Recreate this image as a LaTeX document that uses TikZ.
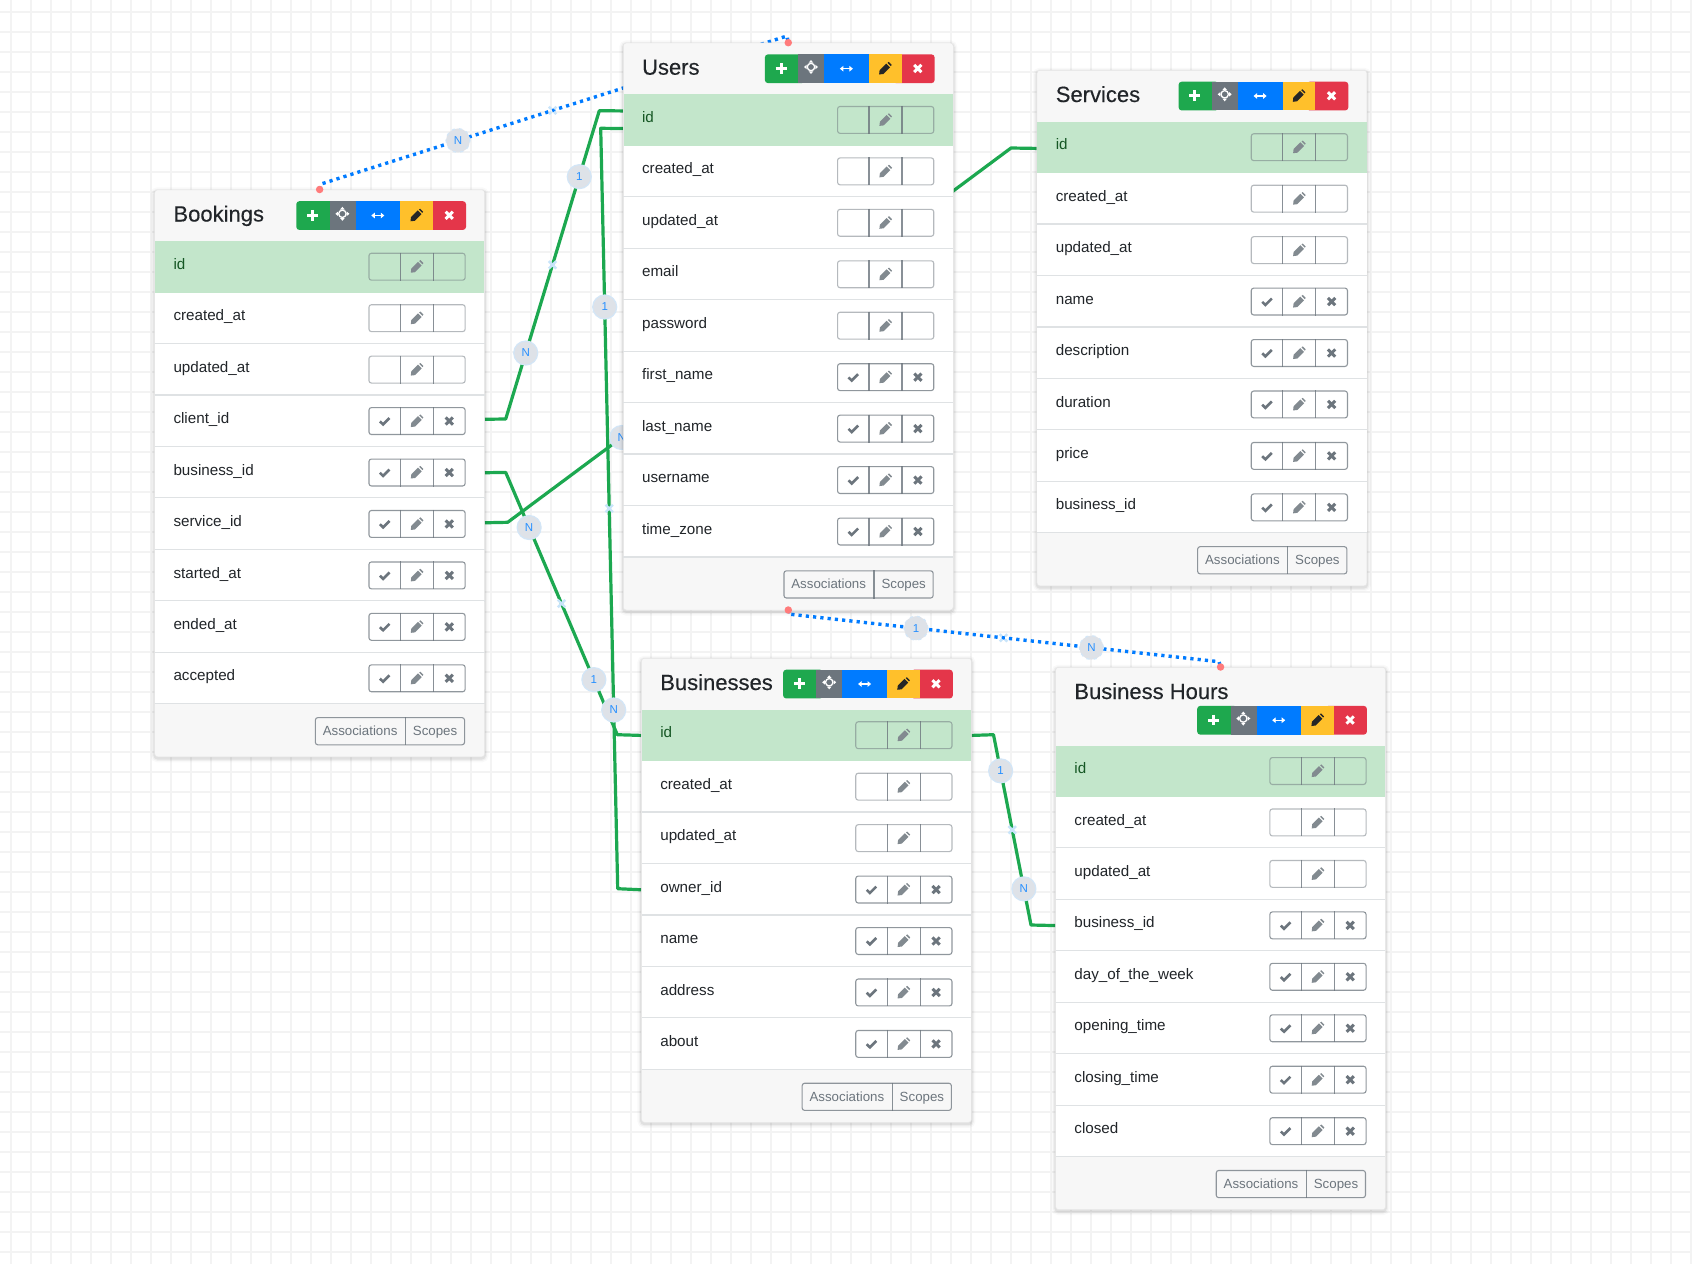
\documentclass[tikz,border=0pt]{standalone}
\usepackage{fontspec}
\setmainfont{Liberation Sans}
\newfontface\titleface[FakeBold=.35]{Liberation Sans}
\usepackage{tikz}
\usetikzlibrary{arrows.meta, positioning, calc, shapes.misc}
\pgfdeclarelayer{sheet}
\pgfdeclarelayer{wires}
\pgfsetlayers{sheet,wires,main}
\definecolor{toolgreen}{HTML}{1EA84E}
\definecolor{toolgray}{HTML}{6C757D}
\definecolor{toolblue}{HTML}{007BFF}
\definecolor{toolyellow}{HTML}{FFC02B}
\definecolor{toolred}{HTML}{E4364A}
\definecolor{inktext}{HTML}{212529}
\definecolor{keygreen}{HTML}{C3E6CB}
\definecolor{keytext}{HTML}{155724}
\definecolor{panelgray}{HTML}{F7F7F7}
\definecolor{sepgray}{HTML}{DFE2E4}
\definecolor{gridgray}{HTML}{F3F3F3}
\definecolor{wiregreen}{HTML}{1CA850}
\definecolor{badgegray}{HTML}{DEE2E8}
\definecolor{badgering}{HTML}{D3E6F7}
\definecolor{markblue}{HTML}{C8E4FA}
\definecolor{pinred}{HTML}{FF7B7B}
\tikzset{
  table/.style={draw=black!10, line width=.5pt, fill=panelgray, rounded corners=3pt, minimum width=330pt, inner sep=0pt,
    anchor=north west,
    preaction={draw=black, draw opacity=.025, line width=8pt, transform canvas={yshift=-1.5pt}},
    preaction={draw=black, draw opacity=.04, line width=5pt, transform canvas={yshift=-1.5pt}},
    preaction={draw=black, draw opacity=.06, line width=2.5pt, transform canvas={yshift=-1.5pt}}},
  rowbox/.style={fill=white, minimum width=329.4pt, minimum height=51.45pt, inner sep=0pt, anchor=north west},
  keybox/.style={rowbox, fill=keygreen},
  sepline/.style={draw=sepgray, line width=1.3pt},
  titlelabel/.style={font=\titleface\fontsize{22}{26}\selectfont, text=inktext, anchor=base west, inner sep=0pt},
  fieldlabel/.style={font=\fontsize{15.2}{18}\selectfont, text=inktext, anchor=base west, inner sep=0pt},
  toolbtn/.style={minimum height=28.7pt, inner sep=0pt, anchor=north west},
  btngroup/.style={draw=toolgray, rounded corners=2.5pt, line width=1.1pt, minimum width=96.2pt, minimum height=26.9pt, inner sep=0pt, anchor=north west},
  btnline/.style={draw=toolgray, draw opacity=.8, line width=1.1pt},
  footgroup/.style={draw=toolgray, draw opacity=.75, rounded corners=2.5pt, line width=1.1pt, minimum width=149.2pt, minimum height=27.2pt, inner sep=0pt, anchor=north east},
  footlabel/.style={font=\fontsize{13.3}{16}\selectfont, text=toolgray, inner sep=0pt, anchor=base},
  wire/.style={draw=wiregreen, line width=3.2pt, line join=round},
  link/.style={draw=toolblue, line width=3.4pt, dash pattern=on 3.2pt off 4.1pt},
  badge/.style={circle, fill=badgegray, draw=badgering, line width=1.2pt, minimum size=24pt, inner sep=0pt,
    font=\fontsize{11.5}{13}\selectfont, text=toolblue!85!white},
  xmark/.style={cross out, draw=markblue, line width=2.4pt, minimum size=5pt, inner sep=0pt},
  pin/.style={circle, fill=pinred, minimum size=7.5pt, inner sep=0pt},
  plusicon/.pic={\draw[white, line width=3pt] (-5.4,0) -- (5.4,0) (0,-5.4) -- (0,5.4);},
  moveicon/.pic={
    \draw[white, line width=1.3pt] (0,0) circle (3.7);
    \fill[white] (0,-7) -- (-2.3,-4.3) -- (2.3,-4.3) -- cycle (0,7) -- (-2.3,4.3) -- (2.3,4.3) -- cycle
      (-7,0) -- (-4.3,-2.3) -- (-4.3,2.3) -- cycle (7,0) -- (4.3,-2.3) -- (4.3,2.3) -- cycle;},
  sizeicon/.pic={\draw[white, line width=1.4pt, {Triangle[length=3.5pt,width=5.5pt]}-{Triangle[length=3.5pt,width=5.5pt]}] (-6.5,0) -- (6.5,0);},
  penicon/.pic={
    \path[pic actions] (-6,6) -- (-5.5,1.8) -- (1.2,-4.9) -- (4.9,-1.2) -- (-1.8,5.5) -- cycle;
    \path[pic actions] (2.4,-5.7) -- (3.6,-6.6) -- (6.6,-3.6) -- (5.7,-2.4) -- cycle;},
  tickicon/.pic={\draw[toolgray, line width=2.6pt] (-4.8,.3) -- (-1.6,3.4) -- (4.8,-3);},
  crossicon/.pic={\draw[pic actions, line width=3pt] (-3.6,-3.6) -- (3.6,3.6) (-3.6,3.6) -- (3.6,-3.6);},
}
\catcode`\_=12
% key, left, top, header height, toolbar offset, title, number of rows, rows
\newcommand{\dbtable}[8]{
  \pgfmathsetmacro{\tblR}{#2+330}
  \pgfmathsetmacro{\tlbT}{#3+#5}
  \pgfmathsetmacro{\rowT}{#3+#4}
  \pgfmathsetmacro{\rowE}{\rowT+#7*51.45}
  \node[table, minimum height={#4+#7*51.45+52.5}] (#1) at (#2,#3) {};
  \node[titlelabel] (#1-title) at ({#2+18.9},{#3+32}) {#6};
  % toolbar
  \node[toolbtn, rounded corners=3pt, fill=toolgreen, minimum width=40pt] (#1-add) at ({\tblR-188.3},\tlbT) {};
  \node[toolbtn, rounded corners=3pt, fill=toolred, minimum width=41.7pt] (#1-drop) at ({\tblR-60.3},\tlbT) {};
  \node[toolbtn, fill=toolgray, minimum width=26pt] (#1-move) at ({\tblR-155},\tlbT) {};
  \node[toolbtn, fill=toolblue, minimum width=44.7pt] (#1-size) at ({\tblR-129},\tlbT) {};
  \node[toolbtn, fill=toolyellow, minimum width=32.7pt] (#1-edit) at ({\tblR-84.3},\tlbT) {};
  \pic at ({\tblR-171.9},{\tlbT+14.3}) {plusicon};
  \pic at ({\tblR-142},{\tlbT+12.8}) {moveicon};
  \pic at ({\tblR-106.6},{\tlbT+14.5}) {sizeicon};
  \pic[fill=black!85] at ({\tblR-67.9},{\tlbT+14.3}) {penicon};
  \pic[draw=white] at ({\tblR-35.2},{\tlbT+14.3}) {crossicon};
  % rows
  \foreach \field/\kind [count=\rowi from 0] in {#8} {
    \pgfmathsetmacro{\rowY}{\rowT+\rowi*51.45}
    \if\kind k
      \node[keybox] (#1-\field) at ({#2+.3},\rowY) {};
      \node[fieldlabel, text=keytext] (#1-\field-label) at ({#2+18.9},{\rowY+28.3}) {\field};
    \else
      \node[rowbox] (#1-\field) at ({#2+.3},\rowY) {};
      \node[fieldlabel] (#1-\field-label) at ({#2+18.9},{\rowY+28.3}) {\field};
      \draw[sepline] ([yshift=.7pt]#1-\field.south west) -- ([yshift=.7pt]#1-\field.south east);
    \fi
    \if\kind o
      \node[btngroup, draw opacity=.75] (#1-\field-btns) at ({\tblR-116},{\rowY+11.7}) {};
      \pic at ({\tblR-99.7},{\rowY+25.7}) {tickicon};
      \pic[draw=toolgray] at ({\tblR-35.1},{\rowY+25.7}) {crossicon};
    \else
      \node[btngroup, draw opacity=.5] (#1-\field-btns) at ({\tblR-116},{\rowY+11.7}) {};
    \fi
    \draw[btnline] ({\tblR-84},{\rowY+11.7}) -- ++(0,28) ({\tblR-51},{\rowY+11.7}) -- ++(0,28);
    \pic[fill=toolgray!85] at ({\tblR-67.6},{\rowY+25.7}) {penicon};
  }
  % footer
  \node[footgroup] (#1-footer) at ({\tblR-19.3},{\rowE+13}) {};
  \node[footlabel] (#1-assoc) at ({\tblR-124.3},{\rowE+31.7}) {Associations};
  \node[footlabel] (#1-scopes) at ({\tblR-49.3},{\rowE+31.7}) {Scopes};
  \draw[btnline] ({\tblR-79},{\rowE+13}) -- ++(0,28.3);
}
\begin{document}
\begin{tikzpicture}[x=1pt, y=-1pt]
\useasboundingbox (0,0) rectangle (1692,1264);
\begin{pgfonlayer}{sheet}
\fill[white] (0,0) rectangle (1692,1264);
\foreach \gx in {11,31,...,1691} \draw[gridgray, line width=2.6pt] (\gx,0) -- (\gx,1264);
\foreach \gy in {12,32,...,1252} \draw[gridgray, line width=2.6pt] (0,\gy) -- (1692,\gy);
\end{pgfonlayer}

\dbtable{bookings}{154.4}{189.5}{51.5}{11.5}{Bookings}{9}{id/k,created_at/l,updated_at/l,client_id/o,business_id/o,service_id/o,started_at/o,ended_at/o,accepted/o}
\dbtable{users}{623}{42.7}{51.5}{11.5}{Users}{9}{id/k,created_at/l,updated_at/l,email/l,password/l,first_name/o,last_name/o,username/o,time_zone/o}
\dbtable{services}{1036.7}{70}{51.5}{11.5}{Services}{8}{id/k,created_at/l,updated_at/l,name/o,description/o,duration/o,price/o,business_id/o}
\dbtable{businesses}{641.2}{658}{51.5}{11.5}{Businesses}{7}{id/k,created_at/l,updated_at/l,owner_id/o,name/o,address/o,about/o}
\dbtable{hours}{1055.3}{667}{78.3}{38.7}{Business Hours}{8}{id/k,created_at/l,updated_at/l,business_id/o,day_of_the_week/o,opening_time/o,closing_time/o,closed/o}

\node[pin] (bookingsPin) at (bookings.north) {};
\node[pin] (usersPinTop) at (users.north) {};
\node[pin] (usersPinBottom) at (788.3,610) {};
\node[pin] (hoursPin) at (hours.north) {};

\begin{pgfonlayer}{wires}
\coordinate (clientOut) at ([yshift=2pt]bookings-client_id.east);
\coordinate (serviceOut) at ([yshift=1.4pt]bookings-service_id.east);
\coordinate (usersIdHigh) at ([yshift=9.2pt]users-id.west);
\coordinate (usersIdLow) at ([yshift=-8.4pt]users-id.west);
\coordinate (servicesIn) at ([yshift=-1pt]services-id.west);
\coordinate (clientBendA) at (505.7,419);
\coordinate (clientBendB) at (599.3,110.7);
\coordinate (businessBendA) at (505.7,472.4);
\coordinate (businessBendB) at (617.3,734.7);
\coordinate (ownerBendA) at (600.7,128.3);
\coordinate (ownerBendB) at (617.7,888.7);
\coordinate (serviceBendA) at (507.7,522.3);
\coordinate (serviceBendB) at (1011,148);
\coordinate (hoursBendA) at (993.5,734.7);
\coordinate (hoursBendB) at (1031,925);
\coordinate (tripsStubA) at (321,184);
\coordinate (tripsStubB) at (787,36);
\coordinate (hoursStubA) at (788,614);
\coordinate (hoursStubB) at (1219,661.7);

\draw[wire] (clientOut) -- (clientBendA)
  -- node[badge, pos=.214] (clientN) {N} node[xmark, pos=.5] (clientMid) {} node[badge, pos=.786] (clientOne) {1} (clientBendB)
  -- (usersIdHigh);
\draw[wire] (bookings-business_id.east) -- (businessBendA)
  -- node[badge, pos=.21] (businessN) {N} node[xmark, pos=.5] (businessMid) {} node[badge, pos=.79] (businessOne) {1} (businessBendB)
  -- (businesses-id.west);
\draw[wire] (usersIdLow) -- (ownerBendA)
  -- node[badge, pos=.235] (ownerOne) {1} node[xmark, pos=.5] (ownerMid) {} node[badge, pos=.765] (ownerN) {N} (ownerBendB)
  -- (businesses-owner_id.west);
\draw[wire] (serviceOut) -- (serviceBendA)
  -- node[badge, pos=.2265] (serviceN) {N} (serviceBendB)
  -- (servicesIn);
\draw[wire] (businesses-id.east) -- (hoursBendA)
  -- node[badge, pos=.19] (hoursOne) {1} node[xmark, pos=.5] (hoursMid) {} node[badge, pos=.81] (hoursN) {N} (hoursBendB)
  -- (hours-business_id.west);
\draw[link] (bookingsPin.center) -- (tripsStubA)
  -- node[badge, pos=.294] (tripsN) {N} node[xmark, pos=.497] (tripsMid) {} (tripsStubB)
  -- (usersPinTop.center);
\draw[link] (usersPinBottom.center) -- (hoursStubA)
  -- node[badge, pos=.297] (linkOne) {1} node[xmark, pos=.5] (linkMid) {} node[badge, pos=.704] (linkN) {N} (hoursStubB)
  -- (hoursPin.center);
\end{pgfonlayer}
\end{tikzpicture}
\end{document}
